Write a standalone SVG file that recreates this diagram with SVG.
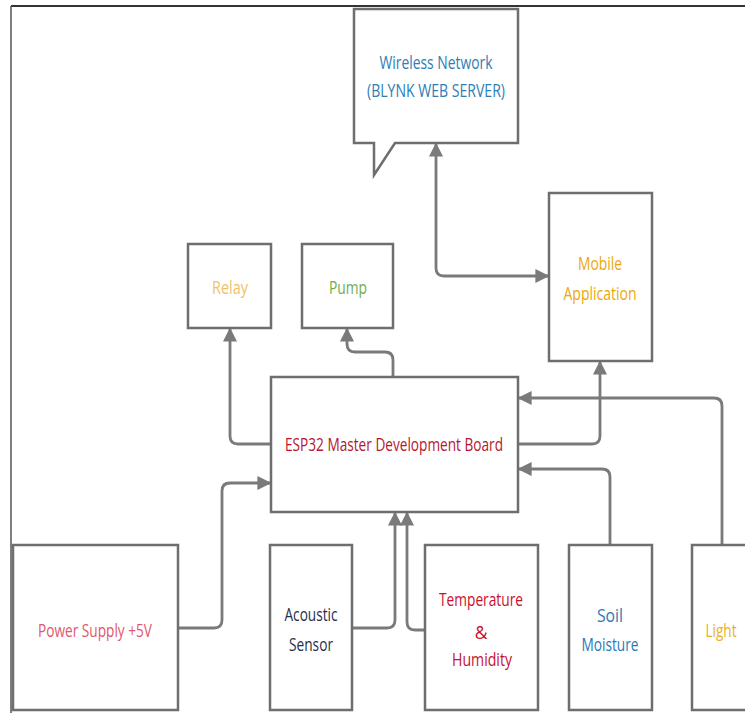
<svg xmlns="http://www.w3.org/2000/svg" width="745" height="713" viewBox="0 0 745 713">
<defs>
<style>
.box{fill:#fff;stroke:#6e6e6e;stroke-width:2.5}
.con{fill:none;stroke:#7a7a7a;stroke-width:2.8;marker-end:url(#ah)}
text{font-family:"Open Sans","Noto Sans","Liberation Sans",sans-serif;font-size:17.5px;text-anchor:middle}
</style>
<marker id="ah" viewBox="0 0 10 10" refX="9" refY="5" markerWidth="14" markerHeight="14" markerUnits="userSpaceOnUse" orient="auto-start-reverse">
<path d="M0,0 L10,5 L0,10 Z" fill="#7a7a7a"/>
</marker>
</defs>
<rect width="745" height="713" fill="#fff"/>
<g id="frame">
<line x1="11" y1="6" x2="745" y2="6" stroke="#333" stroke-width="2"/>
<line x1="11" y1="6" x2="11" y2="713" stroke="#555" stroke-width="1.5"/>
</g>
<g id="connectors">
<path class="con" style="marker-start:url(#ah)" d="M436,144 V268 Q436,276 444,276 H548"/>
<path class="con" d="M271,444 H238 Q230,444 230,436 V329"/>
<path class="con" d="M393,377 V360 Q393,352 385,352 H355 Q347,352 347,344 V329"/>
<path class="con" d="M518,444 H592 Q600,444 600,436 V362"/>
<path class="con" d="M722,545 V406 Q722,398 714,398 H519"/>
<path class="con" d="M610,545 V477 Q610,469 602,469 H519"/>
<path class="con" d="M178,628 H214 Q222,628 222,620 V491 Q222,483 230,483 H270"/>
<path class="con" d="M352,628 H387 Q395,628 395,620 V513"/>
<path class="con" d="M425,630 H415 Q407,630 407,622 V513"/>
</g>
<g id="wireless">
<path class="box" d="M354,9 H518 V143 H395 L374,175 V143 H354 Z"/>
<text x="436" y="69" fill="#2e7db5" textLength="113" lengthAdjust="spacingAndGlyphs">Wireless Network</text>
<text x="436" y="97" fill="#2e7db5" textLength="138" lengthAdjust="spacingAndGlyphs">(BLYNK WEB SERVER)</text>
</g>
<g id="mobile">
<rect class="box" x="549" y="193" width="103" height="168"/>
<text x="600" y="270" fill="#eba70f" textLength="44" lengthAdjust="spacingAndGlyphs">Mobile</text>
<text x="600" y="300" fill="#eba70f" textLength="73" lengthAdjust="spacingAndGlyphs">Application</text>
</g>
<g id="relay">
<rect class="box" x="188" y="244" width="83" height="84"/>
<text x="230" y="294" fill="#f2bf66" textLength="36" lengthAdjust="spacingAndGlyphs">Relay</text>
</g>
<g id="pump">
<rect class="box" x="302" y="244" width="91" height="84"/>
<text x="348" y="294" fill="#6fae4f" textLength="38" lengthAdjust="spacingAndGlyphs">Pump</text>
</g>
<g id="esp32">
<rect class="box" x="271" y="377" width="247" height="135"/>
<text x="394" y="451" fill="#b5172e" textLength="218" lengthAdjust="spacingAndGlyphs">ESP32 Master Development Board</text>
</g>
<g id="power">
<rect class="box" x="13" y="545" width="165" height="165"/>
<text x="95" y="637" fill="#e0586d" textLength="114" lengthAdjust="spacingAndGlyphs">Power Supply +5V</text>
</g>
<g id="acoustic">
<rect class="box" x="270" y="545" width="82" height="165"/>
<text x="311" y="621" fill="#1f2f4d" textLength="53" lengthAdjust="spacingAndGlyphs">Acoustic</text>
<text x="311" y="651" fill="#1f2f4d" textLength="44" lengthAdjust="spacingAndGlyphs">Sensor</text>
</g>
<g id="temperature">
<rect class="box" x="425" y="545" width="113" height="165"/>
<text x="481" y="606" fill="#c8102e" textLength="84" lengthAdjust="spacingAndGlyphs">Temperature</text>
<text x="481" y="639" fill="#c8102e">&amp;</text>
<text x="482" y="666" fill="#c8102e" textLength="60" lengthAdjust="spacingAndGlyphs">Humidity</text>
</g>
<g id="soil">
<rect class="box" x="569" y="545" width="83" height="165"/>
<text x="610" y="622" fill="#2a7ab8" textLength="26" lengthAdjust="spacingAndGlyphs">Soil</text>
<text x="610" y="651" fill="#2a7ab8" textLength="57" lengthAdjust="spacingAndGlyphs">Moisture</text>
</g>
<g id="light">
<rect class="box" x="692" y="545" width="70" height="165"/>
<text x="721" y="637" fill="#e8b020" textLength="31" lengthAdjust="spacingAndGlyphs">Light</text>
</g>
</svg>
